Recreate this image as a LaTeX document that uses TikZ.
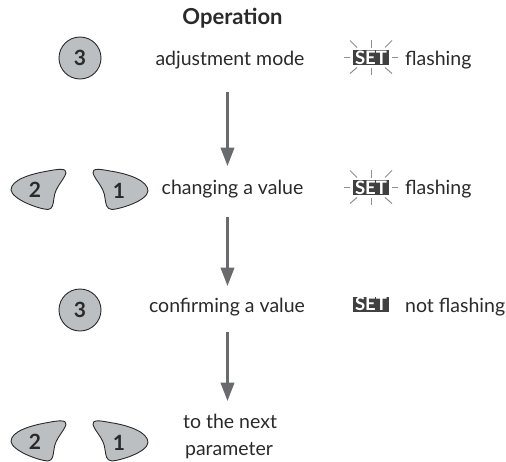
\documentclass[tikz,border=0pt]{standalone}
\usepackage{fontspec}
\setmainfont{Lato}
\usetikzlibrary{arrows.meta}
\definecolor{btn}{HTML}{BBBFC2}
\definecolor{ink}{HTML}{2B2A2B}
\definecolor{arr}{HTML}{6A6B6E}
\definecolor{ray}{HTML}{8E8F91}
\definecolor{badge}{HTML}{404041}
\tikzset{
  x=1pt,y=-1pt,
  lbl/.style={text=ink,font=\fontsize{19.5}{27}\selectfont,inner sep=0pt,anchor=base},
  keylbl/.style={text=ink,font=\fontsize{21}{22}\selectfont\bfseries,inner sep=0pt},
  btnline/.style={draw=ink,line width=0.9pt,fill=btn},
  flow/.style={draw=arr,line width=2.6pt,-{Triangle[length=18.5pt,width=13.5pt]}},
  setbadge/.style={fill=badge,text=white,font=\fontsize{18.5}{15}\selectfont\bfseries,inner sep=0pt,text height=13pt,text depth=0pt,minimum width=36pt,minimum height=15pt},
  rayline/.style={draw=ray,line width=1pt},
  pics/keypair/.style={code={
    \draw[btnline] (66,173) .. controls (67,168) and (58,169) .. (48,171) .. controls (30,174) and (11,180) .. (11,190) .. controls (12,199) and (38,209) .. (48,209.5) .. controls (53,209) and (53,204) .. (54,198) .. controls (55,187) and (64,180) .. (66,173) -- cycle;
    \draw[btnline] (93,173) .. controls (92,168) and (100,169) .. (110,171) .. controls (130,174) and (148,181) .. (148,191) .. controls (147,201) and (120,209) .. (112,209.5) .. controls (106,209) and (106,204) .. (105,198) .. controls (104,187) and (95,180) .. (93,173) -- cycle;
    \node[keylbl] (-k2) at (35,190) {2};
    \node[keylbl] (-k1) at (119,191) {1};
  }},
  pics/rays/.style={code={
    \draw[rayline] (-21,0) -- (-27,0) (21,0) -- (27,0);
    \draw[rayline] (0,-10) -- (0,-18) (0,10) -- (0,17);
    \draw[rayline] (-14,-10) -- (-21,-17) (14,-10) -- (21,-17) (-14,10) -- (-21,16) (14,10) -- (21,16);
  }},
}
\begin{document}
\begin{tikzpicture}
\useasboundingbox (0,0) rectangle (506,461);
\node[lbl,font=\fontsize{22}{24}\selectfont\bfseries] (title) at (232.5,24) {Operation};
\node[btnline,circle,minimum size=42pt,inner sep=0pt,keylbl] (k3a) at (80,58) {3};
\node[lbl] (t1) at (230,65) {adjustment mode};
\node[setbadge] (s1) at (371,57.5) {SET};
\pic at (s1.center) {rays};
\node[lbl,anchor=base west] (f1) at (405,65) {flashing};
\pic (p1) at (0,0) {keypair};
\node[lbl] (t2) at (232.5,194) {changing a value};
\node[setbadge] (s2) at (371,187.5) {SET};
\pic at (s2.center) {rays};
\node[lbl,anchor=base west] (f2) at (405,194) {flashing};
\node[btnline,circle,minimum size=42pt,inner sep=0pt,keylbl] (k3b) at (80,310) {3};
\node[lbl] (t3) at (227,312) {confirming a value};
\node[setbadge] (s3) at (371,304) {SET};
\node[lbl,anchor=base west] (f3) at (405,312) {not flashing};
\pic (p2) at (0,251.5) {keypair};
\node[lbl] (t4a) at (230,428.5) {to the next};
\node[lbl] (t4b) at (229,455) {parameter};
\coordinate (a1s) at (227.5,92);
\coordinate (a1e) at (227.5,166);
\coordinate (a2s) at (227.5,217);
\coordinate (a2e) at (227.5,286);
\coordinate (a3s) at (227.5,332);
\coordinate (a3e) at (227.5,401);
\draw[flow] (a1s) -- (a1e);
\draw[flow] (a2s) -- (a2e);
\draw[flow] (a3s) -- (a3e);
\end{tikzpicture}
\end{document}
